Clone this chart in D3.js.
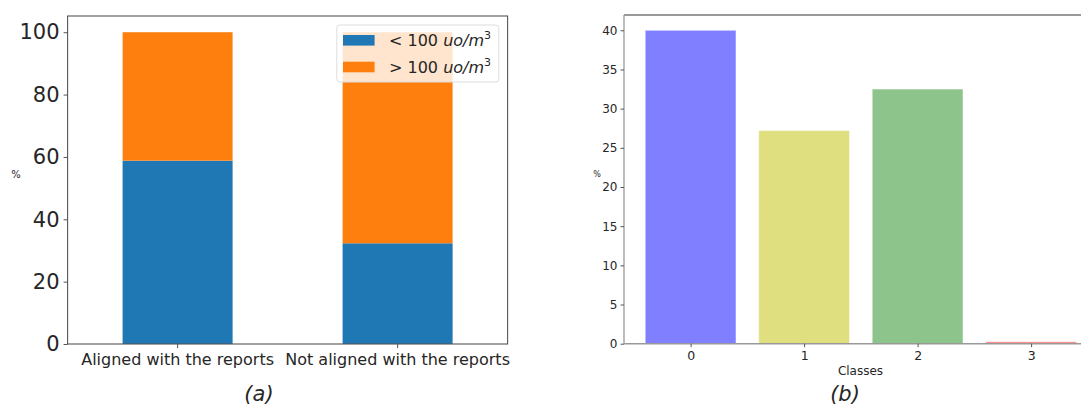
<!DOCTYPE html>
<html>
<head>
<meta charset="utf-8">
<script src="https://cdn.jsdelivr.net/npm/d3@7"></script>
<style>
  html, body { margin: 0; padding: 0; background: #fff; }
  svg { display: block; }
  text { font-family: "DejaVu Sans", sans-serif; fill: #262626; }
</style>
</head>
<body>
<svg id="chart" width="1081" height="407"></svg>
<script>
// Panel (a): share of samples by odour concentration, stacked per group
const groups = ["Aligned with the reports", "Not aligned with the reports"];
const below100 = [58.8, 32.3];
const above100 = [41.2, 67.7];
const leftTicks = [0, 20, 40, 60, 80, 100];

// Panel (b): share of samples per class
const classes = ["0", "1", "2", "3"];
const classShare = [40.0, 27.2, 32.5, 0.25];
const classColors = ["#0000ff", "#bfbf00", "#1a8a1a", "#ff0000"];
const rightTicks = [0, 5, 10, 15, 20, 25, 30, 35, 40];

const svg = d3.select("#chart");

// ---------- Panel (a) ----------
{
  const L = 67.6, R = 507.6, T = 16, B = 344;
  const x = d3.scaleBand().domain(groups).range([L, R]).paddingInner(0.5).paddingOuter(0.25);
  const y = d3.scaleLinear().domain([0, 105.2]).range([B, T]);
  const g = svg.append("g");

  const stacks = groups.map((k, i) => ({ k, a: below100[i], b: above100[i] }));
  g.selectAll("rect.lo").data(stacks).join("rect")
    .attr("x", d => x(d.k)).attr("width", x.bandwidth())
    .attr("y", d => y(d.a)).attr("height", d => y(0) - y(d.a))
    .attr("fill", "#1f77b4");
  g.selectAll("rect.hi").data(stacks).join("rect")
    .attr("x", d => x(d.k)).attr("width", x.bandwidth())
    .attr("y", d => y(d.a + d.b)).attr("height", d => y(d.a) - y(d.a + d.b))
    .attr("fill", "#ff7f0e");

  // frame
  g.append("rect").attr("x", L).attr("y", T).attr("width", R - L).attr("height", B - T)
    .attr("fill", "none").attr("stroke", "#555").attr("stroke-width", 1.1);

  const ya = g.append("g").attr("transform", `translate(${L},0)`)
    .call(d3.axisLeft(y).tickValues(leftTicks).tickSize(4).tickPadding(4).tickFormat(d3.format("d")));
  ya.select(".domain").remove();
  ya.selectAll("line").attr("stroke", "#555");
  ya.selectAll("text").attr("font-size", 21).attr("fill", "#222");

  const xa = g.append("g").attr("transform", `translate(0,${B})`)
    .call(d3.axisBottom(x).tickSize(4).tickPadding(6));
  xa.select(".domain").remove();
  xa.selectAll("line").attr("stroke", "#555");
  xa.selectAll("text").attr("font-size", 16).attr("fill", "#333");

  g.append("text").attr("x", 16).attr("y", 178).attr("text-anchor", "middle")
    .attr("font-size", 10).attr("fill", "#555").text("%");

  // legend
  const lg = g.append("g");
  lg.append("rect").attr("x", 336.8).attr("y", 25).attr("width", 162).attr("height", 57)
    .attr("rx", 3).attr("fill", "#fff").attr("fill-opacity", 0.8)
    .attr("stroke", "#ddd").attr("stroke-width", 1);
  const items = [
    { c: "#1f77b4", s: "<" },
    { c: "#ff7f0e", s: ">" }
  ];
  items.forEach((it, i) => {
    const yy = 35 + i * 26.7;
    lg.append("rect").attr("x", 343).attr("y", yy).attr("width", 31.6).attr("height", 10.6).attr("fill", it.c);
    const t = lg.append("text").attr("x", 389).attr("y", yy + 11).attr("font-size", 16).attr("fill", "#222");
    t.append("tspan").text(it.s + " 100 ");
    t.append("tspan").attr("font-style", "italic").text("uo/m");
    t.append("tspan").attr("font-size", 11).attr("dy", -7).text("3");
  });

  svg.append("text").attr("x", 259).attr("y", 401).attr("text-anchor", "middle")
    .attr("font-family", "Liberation Sans, Arial, sans-serif").attr("font-style", "italic")
    .attr("font-size", 21).attr("fill", "#000").text("(a)");
}

// ---------- Panel (b) ----------
{
  const L = 624, T = 15, B = 343.7;
  const step = 113.5;
  const xc = d3.scalePoint().domain(classes).range([690.6, 690.6 + 3 * step]);
  const y = d3.scaleLinear().domain([0, 41.95]).range([B, T]);
  const g = svg.append("g");

  const bw = 0.8 * step;
  g.selectAll("rect.bar").data(classes).join("rect")
    .attr("x", (d) => xc(d) - bw / 2).attr("width", bw)
    .attr("y", (d, i) => y(classShare[i])).attr("height", (d, i) => y(0) - y(classShare[i]))
    .attr("fill", (d, i) => classColors[i]).attr("fill-opacity", 0.5)
    .attr("stroke", "#fff").attr("stroke-opacity", 0.5).attr("stroke-width", 1);

  // spines: top (runs past the page edge), left, bottom
  g.append("line").attr("x1", L).attr("x2", 1081).attr("y1", T).attr("y2", T)
    .attr("stroke", "#777").attr("stroke-width", 1.6);
  g.append("line").attr("x1", L).attr("x2", L).attr("y1", T).attr("y2", B)
    .attr("stroke", "#999").attr("stroke-width", 1.3);
  g.append("line").attr("x1", L).attr("x2", 1081).attr("y1", B).attr("y2", B)
    .attr("stroke", "#999").attr("stroke-width", 1.6);

  const ya = g.append("g").attr("transform", `translate(${L},0)`)
    .call(d3.axisLeft(y).tickValues(rightTicks).tickSize(3.5).tickPadding(3));
  ya.select(".domain").remove();
  ya.selectAll("line").attr("stroke", "#555");
  ya.selectAll("text").attr("font-size", 12).attr("fill", "#222");

  const xa = g.append("g").attr("transform", `translate(0,${B})`)
    .call(d3.axisBottom(xc).tickSize(3.5).tickPadding(4));
  xa.select(".domain").remove();
  xa.selectAll("line").attr("stroke", "#555");
  xa.selectAll("text").attr("font-size", 12.5).attr("fill", "#222");

  g.append("text").attr("x", 860.5).attr("y", 375).attr("text-anchor", "middle")
    .attr("font-size", 12).attr("fill", "#333").text("Classes");
  g.append("text").attr("x", 597).attr("y", 177).attr("text-anchor", "middle")
    .attr("font-size", 8).attr("fill", "#666").text("%");

  svg.append("text").attr("x", 845).attr("y", 401).attr("text-anchor", "middle")
    .attr("font-family", "Liberation Sans, Arial, sans-serif").attr("font-style", "italic")
    .attr("font-size", 21).attr("fill", "#000").text("(b)");
}
</script>
</body>
</html>
